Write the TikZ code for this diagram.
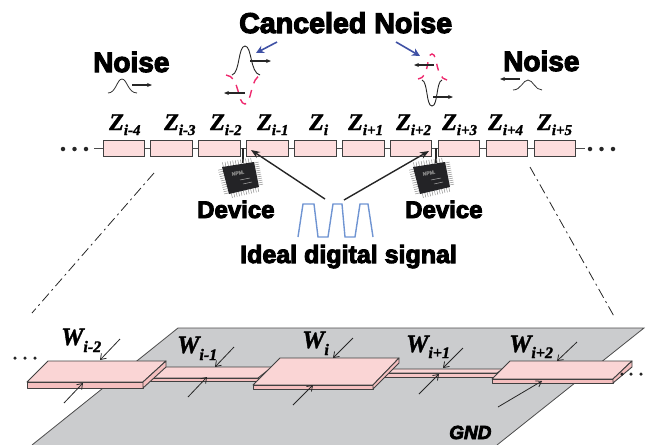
\documentclass[tikz,border=0pt]{standalone}
\usepackage{fontspec}
\setmainfont{Liberation Sans}[BoldFeatures={FakeBold=4},BoldItalicFeatures={FakeBold=4}]
\newfontfamily\symfont{Liberation Serif}[BoldItalicFeatures={FakeBold=1.5}]
\usetikzlibrary{calc,arrows.meta}
\definecolor{boxpink}{HTML}{FDDDDD}
\definecolor{topink}{HTML}{FAD5D5}
\definecolor{frontpink}{HTML}{F5BFBF}
\definecolor{planegray}{HTML}{CBCCCE}
\definecolor{wavepink}{HTML}{EE2A6E}
\definecolor{arrowblue}{HTML}{3F51A5}
\definecolor{pulseblue}{HTML}{6F94D2}
\definecolor{chipdark}{HTML}{232326}
\newcommand{\zsub}[3]{{\symfont\bfseries\itshape\fontsize{#1}{#1}\selectfont Z\raisebox{-5pt}{\fontsize{#2}{#2}\selectfont #3}}}
\newcommand{\wsub}[4]{{\symfont\bfseries\itshape\fontsize{#1}{#1}\selectfont W\raisebox{-#4pt}{\fontsize{#2}{#2}\selectfont #3}}}
\newcommand{\drawchip}[2]{%
\begin{scope}[shift={(#1,0)}]
\coordinate (#2a) at (222,167);
\coordinate (#2b) at (254,162);
\coordinate (#2c) at (259,187);
\coordinate (#2d) at (229,194);
\foreach \t in {0.04,0.12,...,1}{
	\draw[pin] ($(#2a)!\t!(#2b)$) -- ++(-0.8,-4.5);
	\draw[pin] ($(#2b)!\t!(#2c)$) -- ++(4.5,-0.9);
	\draw[pin] ($(#2c)!\t!(#2d)$) -- ++(1,4.5);
	\draw[pin] ($(#2d)!\t!(#2a)$) -- ++(-4.5,1);
}
\fill[chipdark] (#2a) -- (#2b) -- (#2c) -- (#2d) -- cycle;
\node[text=gray,font=\bfseries\fontsize{5}{5}\selectfont,rotate=10,inner sep=0pt] (#2t) at (238,173) {NPM.};
\draw[gray!70,line width=0.5pt] (240,180) -- (250,178) (243,184) -- (252,182);
\end{scope}}
\begin{document}
\begin{tikzpicture}[x=1pt,y=-1pt]
\tikzstyle{zbox}=[draw=black!75,fill=boxpink,line width=1pt,minimum width=41.5pt,minimum height=16pt,inner sep=0pt]
\tikzstyle{dotmark}=[circle,fill=black!85,minimum size=4.5pt,inner sep=0pt]
\tikzstyle{smalldot}=[circle,fill=black!85,minimum size=3.5pt,inner sep=0pt]
\tikzstyle{head}=[inner sep=0pt,anchor=base west,font=\bfseries]
\tikzstyle{wire}=[draw=black!70,line width=0.9pt]
\tikzstyle{narrow}=[-{Stealth[length=5pt,width=4pt]},black!85,line width=1.5pt]
\tikzstyle{blue}=[-{Stealth[length=8pt,width=8pt]},arrowblue,line width=1.6pt]
\tikzstyle{bigarrow}=[-{Stealth[length=9pt,width=7pt]},black!85,line width=1.4pt]
\tikzstyle{warrow}=[-{Straight Barb[length=5pt,width=7pt]},black!85,line width=0.8pt]
\tikzstyle{pin}=[black!45,line width=0.5pt]
\tikzstyle{plate}=[draw=black!75,line width=0.9pt,line join=round]
\useasboundingbox (0,0) rectangle (649,445);
% ground plane
\fill[planegray] (178,328) -- (644,328) -- (497,445) -- (32,445) -- cycle;
\draw[black!70,line width=0.8pt] (32,445) -- (178,328) -- (644,328) -- (497,445);
% upper chain
\foreach \name/\point in {
	1/{123.8,148},
	2/{171.7,148},
	3/{219.6,148},
	4/{267.5,148},
	5/{315.4,148},
	6/{363.3,148},
	7/{411.2,148},
	8/{459.1,148},
	9/{507,148},
	10/{554.9,148}}
	\node[zbox] (z\name) at (\point) {};
\coordinate (leftend) at (94,148);
\coordinate (rightend) at (585,148);
\draw[wire] (leftend) -- (z1);
\foreach \a/\b in {1/2,2/3,3/4,4/5,5/6,6/7,7/8,8/9,9/10}
	\draw[wire] (z\a) -- (z\b);
\draw[wire] (z10) -- (rightend);
\foreach \name/\x in {la/63,lb/74.5,lc/86,ra/590,rb/601.5,rc/613}
	\node[dotmark] (\name) at (\x,149) {};
% impedance labels
\foreach \name/\x/\sub in {
	a/109/i-4,b/164/i-3,c/210/i-2,d/257/i-1,e/309/i,
	f/348/i+1,g/396/i+2,h/442/i+3,k/488/i+4,m/537/i+5}
	\node[head] (zl\name) at (\x,130) {\zsub{24}{15}{\sub}};
% headings
\node[head,font=\bfseries\fontsize{28.6}{28.6}\selectfont] (cancel) at (239,33) {Canceled Noise};
\node[head,font=\bfseries\fontsize{28}{28}\selectfont] (noisel) at (93,72) {Noise};
\node[head,font=\bfseries\fontsize{28}{28}\selectfont] (noiser) at (503,71) {Noise};
\node[head,font=\bfseries\fontsize{24}{24}\selectfont] (devl) at (197,218) {Device};
\node[head,font=\bfseries\fontsize{24}{24}\selectfont] (devr) at (405,218) {Device};
\node[head,font=\bfseries\fontsize{25}{25}\selectfont] (ideal) at (240,263) {Ideal digital signal};
% noise waves
\draw[black!80,line width=0.8pt] (108,93) .. controls (116,93) and (117,79) .. (122,79) .. controls (127,79) and (128,93) .. (137,93);
\draw[black!80,line width=0.8pt] (513,90) .. controls (521,90) and (523,80) .. (528,80) .. controls (533,80) and (535,90) .. (542,90);
\draw[black!85,line width=0.9pt] (232,75) .. controls (240,73) and (238,46) .. (245,46) .. controls (252,46) and (250,73) .. (260,75);
\draw[wavepink,dash pattern=on 8pt off 7pt,line width=1.4pt] (226,75) .. controls (240,76) and (237,104) .. (245,104) .. controls (252,104) and (250,76) .. (262,75);
\draw[wavepink,dash pattern=on 7pt off 7pt,line width=1.4pt] (418,79) .. controls (430,78) and (426,54) .. (432,54) .. controls (438,54) and (435,78) .. (447,80);
\draw[black!85,line width=0.9pt] (422,80) .. controls (428,82) and (426,106) .. (432,106) .. controls (438,106) and (436,82) .. (442,80);
% noise arrows
\foreach \name/\from/\to/\kind in {
	na/{132,85}/{152,85}/narrow,
	nb/{250,61}/{271,61}/narrow,
	nc/{245,93}/{224,93}/narrow,
	nd/{434,65}/{414,65}/narrow,
	ne/{433,97}/{453,97}/narrow,
	nf/{520,79}/{500,79}/narrow,
	ng/{277,42}/{256,53}/blue,
	nh/{396,42}/{420,56}/blue}{
	\coordinate (\name s) at (\from);
	\coordinate (\name t) at (\to);
	\draw[\kind] (\name s) -- (\name t);
}
% devices
\coordinate (stubl) at (243,163);
\coordinate (stubr) at (436,163);
\coordinate (jointl) at (243,148);
\coordinate (jointr) at (436,148);
\draw[black!85,line width=1.8pt] (jointl) -- (stubl);
\draw[black!85,line width=1.8pt] (jointr) -- (stubr);
\drawchip{0}{cl}
\drawchip{191}{cr}
% digital signal
\draw[pulseblue,line width=1.4pt] (298,237) -- (303,204) -- (314,204) -- (318,237) -- (328,237) -- (333,204) -- (342,204) -- (345,237) -- (355,237) -- (360,204) -- (368,204) -- (373,237);
\coordinate (sigl) at (325,199);
\coordinate (sigr) at (344,200);
\coordinate (tipl) at (251,150);
\coordinate (tipr) at (429,151);
\draw[bigarrow] (sigl) -- (tipl);
\draw[bigarrow] (sigr) -- (tipr);
% projection lines
\coordinate (pla) at (154,173);
\coordinate (plb) at (32,313);
\coordinate (pra) at (530,167);
\coordinate (prb) at (615,318);
\draw[black!85,line width=0.8pt,dash pattern=on 10pt off 4pt on 2pt off 4pt] (pla) -- (plb);
\draw[black!85,line width=0.8pt,dash pattern=on 10pt off 4pt on 2pt off 4pt] (pra) -- (prb);
% narrow strips
\draw[plate,fill=topink] (163,367) -- (272,367) -- (258,378) -- (150,378) -- cycle;
\draw[plate,fill=frontpink] (150,378) -- (258,378) -- (258,381) -- (150,381) -- cycle;
\draw[plate,fill=topink] (388,369) -- (503,369) -- (497,373) -- (383,373) -- cycle;
\draw[plate,fill=frontpink!70!topink] (383,373) -- (497,373) -- (497,377) -- (383,377) -- cycle;
% wide plates
\draw[plate,fill=topink] (48,361) -- (166,361) -- (143,382) -- (27,382) -- cycle;
\draw[plate,fill=frontpink] (27,382) -- (143,382) -- (143,388) -- (27,388) -- cycle;
\draw[plate,fill=frontpink] (143,382) -- (166,361) -- (166,367) -- (143,388) -- cycle;
\draw[plate,fill=topink] (280,358) -- (399,358) -- (373,385) -- (253,385) -- cycle;
\draw[plate,fill=frontpink] (253,385) -- (373,385) -- (373,389) -- (253,389) -- cycle;
\draw[plate,fill=frontpink] (373,385) -- (399,358) -- (399,363) -- (373,389) -- cycle;
\draw[plate,fill=topink] (510,361) -- (632,361) -- (613,379) -- (492,379) -- cycle;
\draw[plate,fill=frontpink] (492,379) -- (613,379) -- (613,383) -- (492,383) -- cycle;
\draw[plate,fill=frontpink] (613,379) -- (632,361) -- (632,367) -- (613,383) -- cycle;
% width labels
\node[head] (wa) at (61,345) {\wsub{25}{16}{i-2}{7}};
\node[head] (wb) at (177,353) {\wsub{25}{16}{i-1}{7}};
\node[head] (wc) at (302,348) {\wsub{25}{16}{i}{7}};
\node[head] (wd) at (406,352) {\wsub{25}{16}{i+1}{6}};
\node[head] (we) at (509,352) {\wsub{25}{16}{i+2}{6}};
% width arrows
\foreach \name/\from/\to in {
	aa/{120,339}/{100,360},
	ab/{64,403}/{83,383},
	ba/{234,347}/{215,367},
	bb/{188,397}/{207,377},
	ca/{353,338}/{333,358},
	cb/{293,405}/{313,385},
	da/{463,348}/{443,368},
	db/{419,394}/{439,374},
	ea/{577,342}/{557,361},
	eb/{498,407}/{542,381}}{
	\coordinate (\name s) at (\from);
	\coordinate (\name t) at (\to);
	\draw[warrow] (\name s) -- (\name t);
}
\foreach \name/\x/\y in {pa/15/358,pb/25/358,pc/35/358,qa/622/374,qb/631/374,qc/641/374}
	\node[smalldot] (\name) at (\x,\y) {};
\node[head,font=\bfseries\itshape\fontsize{19}{19}\selectfont] (gnd) at (449,439) {GND};
\end{tikzpicture}
\end{document}
